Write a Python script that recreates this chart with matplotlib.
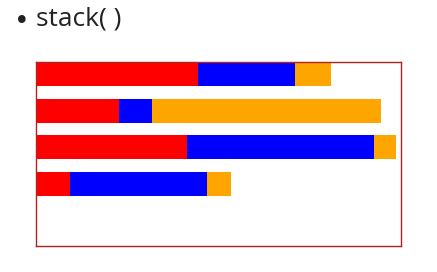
import matplotlib
matplotlib.use("Agg")
import matplotlib.pyplot as plt
import numpy as np

# stacked horizontal bars, one row per record
rows = ["a", "b", "c", "d"]
red_vals = [162, 83, 151, 34]
blue_vals = [97, 33, 187, 137]
orange_vals = [36, 229, 22, 24]
colors = ["red", "blue", "orange"]

W, H = 437, 272
fig = plt.figure(figsize=(W/100, H/100), dpi=100)

# bullet heading
fig.text(21.5/W, 1-22/H, u"\u2022", fontsize=19, color="#222222",
         ha="center", va="center", family="DejaVu Sans")
fig.text(36/W, 1-19/H, "stack( )", fontsize=19, color="#222222",
         ha="left", va="center", family="Open Sans")

ax = fig.add_axes([36/W, (H-246)/H, 365/W, 184/H])

y = np.arange(len(rows))
bh = 0.654
left = np.zeros(len(rows))
for vals, c in zip([red_vals, blue_vals, orange_vals], colors):
    ax.barh(y, vals, height=bh, left=left, color=c, linewidth=0)
    left = left + np.array(vals)

ax.set_xlim(0, 365)
ax.set_ylim(-bh/2 + 184/36.7, -bh/2)
ax.set_xticks([])
ax.set_yticks([])
for s in ax.spines.values():
    s.set_color("#b22222")
    s.set_linewidth(1)

fig.savefig("out.png", dpi=100)
